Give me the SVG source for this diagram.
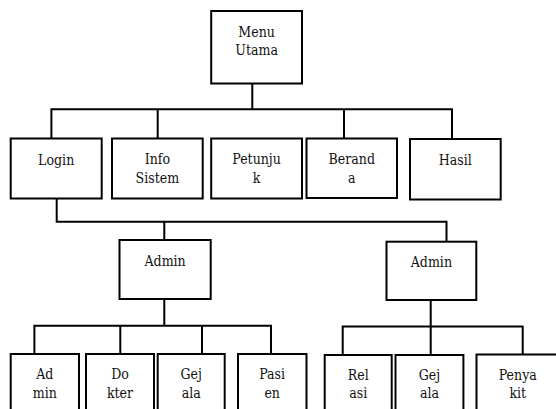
<svg xmlns="http://www.w3.org/2000/svg" width="556" height="409" viewBox="0 0 556 409">
<style>
.box{fill:#fff;stroke:#000;stroke-width:2}
.ln{fill:none;stroke:#000;stroke-width:2}
text{font-family:'DejaVu Serif Condensed','DejaVu Serif',serif;font-stretch:condensed;font-size:14px;fill:#111;text-anchor:middle}
</style>
<rect width="556" height="409" fill="#fff"/>
<g id="connectors" class="ln">
<path d="M252.3 83.5V109.3M51.4 138.5V109.3H452V139M157.7 109.3V138.5M344 109.3V138.5"/>
<path d="M56.7 198.3V221.7H446.5V241.7M164.3 221.7V240"/>
<path d="M164.3 299V325.7M34.4 354V325.7H271V354M120.3 325.7V354M202 325.7V354"/>
<path d="M430.7 300V326.5M342.7 355V326.5H522.7V355M430.7 326.5V355"/>
</g>
<g id="menu-utama"><rect class="box" x="211.2" y="11" width="90.8" height="72.5"/><text x="256.6" y="36.7">Menu</text><text x="256.6" y="55">Utama</text></g>
<g id="login"><rect class="box" x="10.7" y="138.5" width="91" height="60"/><text x="56.2" y="164.5">Login</text></g>
<g id="info-sistem"><rect class="box" x="112" y="138.5" width="90.7" height="60"/><text x="157.4" y="164.3">Info</text><text x="157.4" y="183">Sistem</text></g>
<g id="petunjuk"><rect class="box" x="211.2" y="138.5" width="90.8" height="60"/><text x="256.6" y="164.3">Petunju</text><text x="256.6" y="183">k</text></g>
<g id="beranda"><rect class="box" x="306.5" y="138.5" width="90.5" height="59.5"/><text x="351.8" y="164.3">Berand</text><text x="351.8" y="183">a</text></g>
<g id="hasil"><rect class="box" x="410" y="139" width="90.7" height="60.5"/><text x="455.3" y="165">Hasil</text></g>
<g id="admin-1"><rect class="box" x="119.5" y="240" width="91.2" height="59"/><text x="165.1" y="265.7">Admin</text></g>
<g id="admin-2"><rect class="box" x="386.5" y="241.7" width="89.8" height="58.3"/><text x="431.4" y="266.7">Admin</text></g>
<g id="admin-data"><rect class="box" x="10.7" y="354" width="68.3" height="80"/><text x="44.8" y="379">Ad</text><text x="44.8" y="397.8">min</text></g>
<g id="dokter"><rect class="box" x="86" y="354" width="68" height="80"/><text x="120" y="379">Do</text><text x="120" y="397.8">kter</text></g>
<g id="gejala-1"><rect class="box" x="157.7" y="354" width="67" height="80"/><text x="191.2" y="379">Gej</text><text x="191.2" y="397.8">ala</text></g>
<g id="pasien"><rect class="box" x="238" y="354" width="68.5" height="80"/><text x="272.2" y="379">Pasi</text><text x="272.2" y="397.8">en</text></g>
<g id="relasi"><rect class="box" x="324.7" y="355" width="67" height="80"/><text x="358.2" y="380">Rel</text><text x="358.2" y="398.3">asi</text></g>
<g id="gejala-2"><rect class="box" x="395.5" y="355" width="67.9" height="80"/><text x="429.4" y="380">Gej</text><text x="429.4" y="398.3">ala</text></g>
<g id="penyakit"><rect class="box" x="476.5" y="354.5" width="83" height="80"/><text x="517.8" y="380">Penya</text><text x="517.8" y="398.3">kit</text></g>
</svg>
